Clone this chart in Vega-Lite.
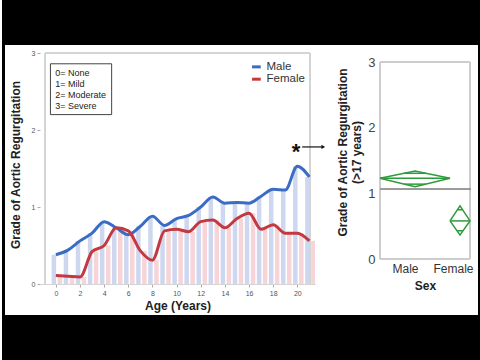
{
  "$schema": "https://vega.github.io/schema/vega-lite/v6.json",
  "background": "white",
  "padding": 0,
  "spacing": 0,
  "bounds": "flush",
  "align": "each",
  "columns": 7,
  "config": {"font": "Liberation Sans", "view": {"stroke": null}},
  "concat": [
    {"width": 3, "height": 45, "data": {"values": [{}]}, "mark": {"type": "point", "opacity": 0}, "view": {"fill": "black", "stroke": null}},
    {"width": 35, "height": 45, "data": {"values": [{}]}, "mark": {"type": "point", "opacity": 0}, "view": {"fill": "black", "stroke": null}},
    {"width": 275, "height": 45, "data": {"values": [{}]}, "mark": {"type": "point", "opacity": 0}, "view": {"fill": "black", "stroke": null}},
    {"width": 65, "height": 45, "data": {"values": [{}]}, "mark": {"type": "point", "opacity": 0}, "view": {"fill": "black", "stroke": null}},
    {"width": 90, "height": 45, "data": {"values": [{}]}, "mark": {"type": "point", "opacity": 0}, "view": {"fill": "black", "stroke": null}},
    {"width": 8, "height": 45, "data": {"values": [{}]}, "mark": {"type": "point", "opacity": 0}, "view": {"fill": "black", "stroke": null}},
    {"width": 4, "height": 45, "data": {"values": [{}]}, "mark": {"type": "point", "opacity": 0}, "view": {"fill": "black", "stroke": null}},

    {"width": 3, "height": 270, "data": {"values": [{}]}, "mark": {"type": "point", "opacity": 0}, "view": {"fill": "black", "stroke": null}},
    {"width": 35, "height": 270, "data": {"values": [{}]}, "mark": {"type": "point", "opacity": 0}, "view": {"stroke": null}},
    {
      "width": 275,
      "height": 239,
      "data": {"values": [
        {"age": 0, "sex": "Male", "grade": 0.38}, {"age": 0, "sex": "Female", "grade": 0.11},
        {"age": 1, "sex": "Male", "grade": 0.44}, {"age": 1, "sex": "Female", "grade": 0.10},
        {"age": 2, "sex": "Male", "grade": 0.56}, {"age": 2, "sex": "Female", "grade": 0.09},
        {"age": 3, "sex": "Male", "grade": 0.66}, {"age": 3, "sex": "Female", "grade": 0.42},
        {"age": 4, "sex": "Male", "grade": 0.81}, {"age": 4, "sex": "Female", "grade": 0.50},
        {"age": 5, "sex": "Male", "grade": 0.73}, {"age": 5, "sex": "Female", "grade": 0.73},
        {"age": 6, "sex": "Male", "grade": 0.64}, {"age": 6, "sex": "Female", "grade": 0.69},
        {"age": 7, "sex": "Male", "grade": 0.75}, {"age": 7, "sex": "Female", "grade": 0.43},
        {"age": 8, "sex": "Male", "grade": 0.88}, {"age": 8, "sex": "Female", "grade": 0.31},
        {"age": 9, "sex": "Male", "grade": 0.76}, {"age": 9, "sex": "Female", "grade": 0.69},
        {"age": 10, "sex": "Male", "grade": 0.85}, {"age": 10, "sex": "Female", "grade": 0.71},
        {"age": 11, "sex": "Male", "grade": 0.89}, {"age": 11, "sex": "Female", "grade": 0.68},
        {"age": 12, "sex": "Male", "grade": 1.00}, {"age": 12, "sex": "Female", "grade": 0.81},
        {"age": 13, "sex": "Male", "grade": 1.13}, {"age": 13, "sex": "Female", "grade": 0.83},
        {"age": 14, "sex": "Male", "grade": 1.05}, {"age": 14, "sex": "Female", "grade": 0.73},
        {"age": 15, "sex": "Male", "grade": 1.06}, {"age": 15, "sex": "Female", "grade": 0.85},
        {"age": 16, "sex": "Male", "grade": 1.05}, {"age": 16, "sex": "Female", "grade": 0.92},
        {"age": 17, "sex": "Male", "grade": 1.14}, {"age": 17, "sex": "Female", "grade": 0.71},
        {"age": 18, "sex": "Male", "grade": 1.23}, {"age": 18, "sex": "Female", "grade": 0.77},
        {"age": 19, "sex": "Male", "grade": 1.22}, {"age": 19, "sex": "Female", "grade": 0.66},
        {"age": 20, "sex": "Male", "grade": 1.53}, {"age": 20, "sex": "Female", "grade": 0.66},
        {"age": 21, "sex": "Male", "grade": 1.39}, {"age": 21, "sex": "Female", "grade": 0.56}
      ]},
      "encoding": {
        "x": {"field": "age", "type": "quantitative", "scale": {"domain": [-0.9, 21.05], "nice": false, "zero": false},
          "axis": {"title": "Age (Years)", "values": [0, 2, 4, 6, 8, 10, 12, 14, 16, 18, 20], "grid": false, "labelFontSize": 7, "labelColor": "#555", "tickSize": 3, "tickColor": "#aaa", "domainColor": "#d4d4d4", "labelPadding": 2, "titleFontSize": 12, "titleFontWeight": "bold", "titleColor": "#222", "titlePadding": 4}},
        "y": {"field": "grade", "type": "quantitative", "scale": {"domain": [0, 3.104], "nice": false},
          "axis": {"title": "Grade of Aortic Regurgitation", "values": [0, 1, 2, 3], "grid": false, "domain": false, "labelFontSize": 7, "labelColor": "#555", "tickSize": 3, "tickColor": "#aaa", "labelPadding": 2, "titleFontSize": 12, "titleFontWeight": "bold", "titleColor": "#222", "titlePadding": 9}}
      },
      "layer": [
        {"transform": [{"filter": "datum.sex === 'Male'"}], "mark": {"type": "bar", "width": 4.5, "xOffset": -2, "color": "#cdd7ef", "clip": true}},
        {"transform": [{"filter": "datum.sex === 'Female'"}], "mark": {"type": "bar", "width": 4.5, "xOffset": 4, "color": "#f7d4d8", "clip": true}},
        {"mark": {"type": "rule", "color": "#d4d4d4", "strokeWidth": 1},
          "encoding": {"x": {"datum": -0.9, "type": "quantitative"}, "y": {"datum": 0, "type": "quantitative"}, "y2": {"datum": 3}}},
        {"mark": {"type": "rule", "color": "#d4d4d4", "strokeWidth": 1},
          "encoding": {"x": {"datum": 21.05, "type": "quantitative"}, "y": {"datum": 0, "type": "quantitative"}, "y2": {"datum": 3}}},
        {"mark": {"type": "rule", "color": "#d4d4d4", "strokeWidth": 1},
          "encoding": {"x": {"datum": -0.9, "type": "quantitative"}, "x2": {"datum": 21.05}, "y": {"datum": 3, "type": "quantitative"}}},
        {"mark": {"type": "line", "interpolate": "monotone", "strokeWidth": 3},
          "encoding": {"color": {"field": "sex", "type": "nominal", "scale": {"domain": ["Male", "Female"], "range": ["#3a6cc6", "#c3393f"]}, "legend": null}}},
        {"data": {"values": [
          {"age": 16.25, "age2": 16.97, "grade": 2.82, "sex": "Male"},
          {"age": 16.25, "age2": 16.97, "grade": 2.66, "sex": "Female"}
        ]},
          "mark": {"type": "rule", "strokeWidth": 3},
          "encoding": {"x2": {"field": "age2"}, "color": {"field": "sex", "type": "nominal", "legend": null}}},
        {"data": {"values": [
          {"age": 17.45, "grade": 2.82, "label": "Male"},
          {"age": 17.45, "grade": 2.66, "label": "Female"}
        ]},
          "mark": {"type": "text", "align": "left", "baseline": "middle", "fontSize": 11.5, "color": "#333"},
          "encoding": {"text": {"field": "label"}}},
        {"data": {"values": [{"age": -0.45, "age2": 4.62, "grade": 2.2, "grade2": 2.86}]},
          "mark": {"type": "rect", "fill": "white", "stroke": "#444", "strokeWidth": 1},
          "encoding": {"x2": {"field": "age2"}, "y2": {"field": "grade2"}}},
        {"data": {"values": [
          {"age": -0.05, "grade": 2.74, "label": "0= None"},
          {"age": -0.05, "grade": 2.6, "label": "1= Mild"},
          {"age": -0.05, "grade": 2.46, "label": "2= Moderate"},
          {"age": -0.05, "grade": 2.31, "label": "3= Severe"}
        ]},
          "mark": {"type": "text", "align": "left", "baseline": "middle", "fontSize": 9, "color": "#222"},
          "encoding": {"text": {"field": "label"}}},
        {"data": {"values": [{"age": 19.9, "grade": 1.77, "label": "*"}]},
          "mark": {"type": "text", "align": "center", "baseline": "middle", "fontSize": 22, "fontWeight": "bold", "color": "#111", "dy": 4},
          "encoding": {"text": {"field": "label"}}},
        {"data": {"values": [{"age": 20.4, "age2": 22.1, "grade": 1.78}]},
          "mark": {"type": "rule", "color": "#111", "strokeWidth": 1.2},
          "encoding": {"x2": {"field": "age2"}}},
        {"data": {"values": [{"age": 22.15, "grade": 1.78}]},
          "mark": {"type": "point", "shape": "triangle-right", "filled": true, "color": "#111", "size": 18, "opacity": 1}}
      ]
    },
    {"width": 65, "height": 270, "data": {"values": [{}]}, "mark": {"type": "point", "opacity": 0}, "view": {"stroke": null}},
    {
      "width": 90,
      "height": 214,
      "data": {"values": [
        {"seg": "m_diamond", "o": 0, "px": 0, "g": 1.23},
        {"seg": "m_diamond", "o": 1, "px": 35, "g": 1.34},
        {"seg": "m_diamond", "o": 2, "px": 70, "g": 1.23},
        {"seg": "m_diamond", "o": 3, "px": 35, "g": 1.1},
        {"seg": "m_diamond", "o": 4, "px": 0, "g": 1.23},
        {"seg": "m_mean", "o": 0, "px": 0, "g": 1.23},
        {"seg": "m_mean", "o": 1, "px": 70, "g": 1.23},
        {"seg": "m_top", "o": 0, "px": 23.9, "g": 1.305},
        {"seg": "m_top", "o": 1, "px": 46.1, "g": 1.305},
        {"seg": "m_bot", "o": 0, "px": 24.2, "g": 1.14},
        {"seg": "m_bot", "o": 1, "px": 45.8, "g": 1.14},
        {"seg": "f_diamond", "o": 0, "px": 70, "g": 0.58},
        {"seg": "f_diamond", "o": 1, "px": 80, "g": 0.81},
        {"seg": "f_diamond", "o": 2, "px": 90, "g": 0.58},
        {"seg": "f_diamond", "o": 3, "px": 80, "g": 0.365},
        {"seg": "f_diamond", "o": 4, "px": 70, "g": 0.58},
        {"seg": "f_mean", "o": 0, "px": 70, "g": 0.58},
        {"seg": "f_mean", "o": 1, "px": 90, "g": 0.58},
        {"seg": "f_top", "o": 0, "px": 77.4, "g": 0.75},
        {"seg": "f_top", "o": 1, "px": 82.6, "g": 0.75},
        {"seg": "f_bot", "o": 0, "px": 77, "g": 0.43},
        {"seg": "f_bot", "o": 1, "px": 83, "g": 0.43}
      ]},
      "encoding": {
        "x": {"field": "px", "type": "quantitative", "scale": {"domain": [0, 90], "nice": false, "zero": false},
          "axis": {"title": "Sex", "values": [25, 73], "labelExpr": "datum.value < 50 ? 'Male' : 'Female'", "grid": false, "ticks": false, "domain": false, "labelFontSize": 12, "labelColor": "#333", "labelPadding": 4, "titleFontSize": 12, "titleFontWeight": "bold", "titleColor": "#222", "titlePadding": 6}},
        "y": {"field": "g", "type": "quantitative", "scale": {"domain": [0, 3.259], "nice": false},
          "axis": {"title": ["Grade of Aortic Regurgitation", "(>17 years)"], "values": [0, 1, 2, 3], "grid": false, "ticks": false, "domain": false, "labelFontSize": 13, "labelColor": "#444", "labelPadding": 5, "titleFontSize": 12, "titleFontWeight": "bold", "titleColor": "#222", "titlePadding": 4}}
      },
      "layer": [
        {"mark": {"type": "rule", "color": "#cccccc", "strokeWidth": 1},
          "encoding": {"x": {"datum": 0, "type": "quantitative"}, "y": {"datum": 0, "type": "quantitative"}, "y2": {"datum": 3}}},
        {"mark": {"type": "rule", "color": "#cccccc", "strokeWidth": 1},
          "encoding": {"x": {"datum": 90, "type": "quantitative"}, "y": {"datum": 0, "type": "quantitative"}, "y2": {"datum": 3}}},
        {"mark": {"type": "rule", "color": "#cccccc", "strokeWidth": 1},
          "encoding": {"x": {"datum": 0, "type": "quantitative"}, "x2": {"datum": 90}, "y": {"datum": 3, "type": "quantitative"}}},
        {"mark": {"type": "rule", "color": "#cccccc", "strokeWidth": 1},
          "encoding": {"x": {"datum": 0, "type": "quantitative"}, "x2": {"datum": 90}, "y": {"datum": 0, "type": "quantitative"}}},
        {"mark": {"type": "rule", "color": "#9a9a9a", "strokeWidth": 1},
          "encoding": {"x": {"datum": 0, "type": "quantitative"}, "x2": {"datum": 91}, "y": {"datum": 1.06, "type": "quantitative"}}},
        {"mark": {"type": "line", "color": "#2e9a3c", "strokeWidth": 1.5},
          "encoding": {"detail": {"field": "seg"}, "order": {"field": "o"}}}
      ]
    },
    {"width": 8, "height": 270, "data": {"values": [{}]}, "mark": {"type": "point", "opacity": 0}, "view": {"stroke": null}},
    {"width": 4, "height": 270, "data": {"values": [{}]}, "mark": {"type": "point", "opacity": 0}, "view": {"fill": "black", "stroke": null}},

    {"width": 3, "height": 45, "data": {"values": [{}]}, "mark": {"type": "point", "opacity": 0}, "view": {"fill": "black", "stroke": null}},
    {"width": 35, "height": 45, "data": {"values": [{}]}, "mark": {"type": "point", "opacity": 0}, "view": {"fill": "black", "stroke": null}},
    {"width": 275, "height": 45, "data": {"values": [{}]}, "mark": {"type": "point", "opacity": 0}, "view": {"fill": "black", "stroke": null}},
    {"width": 65, "height": 45, "data": {"values": [{}]}, "mark": {"type": "point", "opacity": 0}, "view": {"fill": "black", "stroke": null}},
    {"width": 90, "height": 45, "data": {"values": [{}]}, "mark": {"type": "point", "opacity": 0}, "view": {"fill": "black", "stroke": null}},
    {"width": 8, "height": 45, "data": {"values": [{}]}, "mark": {"type": "point", "opacity": 0}, "view": {"fill": "black", "stroke": null}},
    {"width": 4, "height": 45, "data": {"values": [{}]}, "mark": {"type": "point", "opacity": 0}, "view": {"fill": "black", "stroke": null}}
  ]
}
